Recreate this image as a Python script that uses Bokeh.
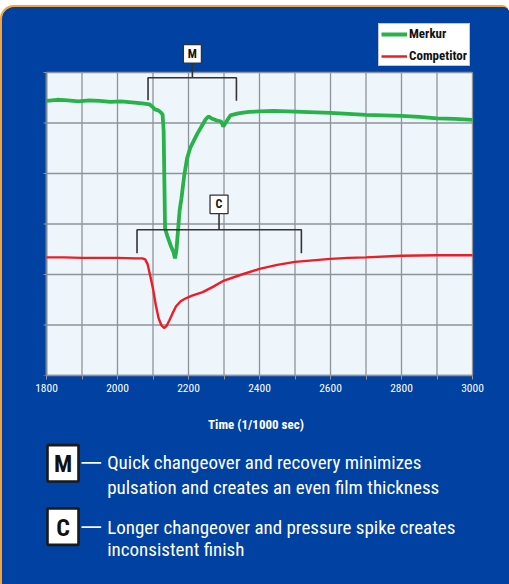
import math
from bokeh.plotting import figure
from bokeh.layouts import column
from bokeh.models import Range1d, FixedTicker, Legend, LegendItem
from bokeh.embed import file_html
from bokeh.resources import INLINE
from bokeh.core.properties import value

# ---------------- data ----------------
merkur_time = [1800, 1830, 1860, 1890, 1920, 1950, 1980, 2010, 2040, 2070, 2090,
               2100, 2105, 2115, 2122, 2127, 2130, 2132, 2134, 2140, 2150, 2158,
               2162, 2166, 2170, 2175, 2180, 2188, 2196, 2205, 2215, 2225, 2235,
               2248, 2256, 2265, 2280, 2292, 2298, 2305, 2318, 2340, 2370, 2400,
               2440, 2480, 2520, 2560, 2600, 2650, 2700, 2750, 2800, 2850, 2900,
               2950, 3000]
merkur_value = [5.44, 5.46, 5.45, 5.43, 5.45, 5.44, 5.42, 5.43, 5.41, 5.39, 5.37,
                5.31, 5.27, 5.25, 5.21, 5.17, 4.85, 3.86, 2.91, 2.77, 2.57, 2.44,
                2.32, 2.48, 2.83, 3.27, 3.50, 3.96, 4.30, 4.51, 4.65, 4.79, 4.91,
                5.07, 5.13, 5.09, 5.05, 5.03, 4.93, 5.01, 5.15, 5.19, 5.22, 5.23,
                5.24, 5.23, 5.22, 5.21, 5.20, 5.18, 5.16, 5.15, 5.14, 5.12, 5.09,
                5.08, 5.06]

competitor_time = [1800, 1850, 1900, 1950, 2000, 2050, 2070, 2078, 2085, 2092, 2100,
                   2108, 2116, 2124, 2131, 2138, 2146, 2155, 2165, 2178, 2190, 2210,
                   2240, 2270, 2300, 2350, 2400, 2450, 2500, 2550, 2600, 2650, 2700,
                   2800, 2900, 3000]
competitor_value = [2.34, 2.34, 2.33, 2.33, 2.33, 2.32, 2.32, 2.30, 2.20, 1.98, 1.72,
                    1.39, 1.13, 0.99, 0.94, 0.98, 1.09, 1.23, 1.37, 1.47, 1.52, 1.58,
                    1.65, 1.76, 1.88, 2.00, 2.11, 2.19, 2.25, 2.28, 2.31, 2.33, 2.34,
                    2.37, 2.38, 2.38]

series_names = ["Merkur", "Competitor"]
x_tick_labels = [1800, 2000, 2200, 2400, 2600, 2800, 3000]
x_minor_ticks = [1900, 2100, 2300, 2500, 2700, 2900]
y_levels = [0, 1, 2, 3, 4, 5, 6]

bracket_m = [2086, 2335]
bracket_c = [2055, 2518]
note_letters = ["M", "C"]
note_m = ["Quick changeover and recovery minimizes",
          "pulsation and creates an even film thickness"]
note_c = ["Longer changeover and pressure spike creates",
          "inconsistent finish"]
axis_title = "Time (1/1000 sec)"

# ---------------- style ----------------
FONT = "'Liberation Sans Narrow', 'Arial Narrow', 'Roboto Condensed', sans-serif"
BLUE = "#0041A1"
PANEL = "#EEF6FC"
GRID = "#8E9399"
GREEN = "#27B24A"
RED = "#EE1C25"
DARK = "#333333"

W = 507
H_TOP = 433
H_BOT = 144
PX_PER_X = 0.355      # pixels per time unit
PX_PER_Y = 50.5       # pixels per y unit
x_lo = x_tick_labels[0] - 44 / PX_PER_X
x_hi = x_lo + W / PX_PER_X
y_hi = 368 / PX_PER_Y

p = figure(width=W, height=H_TOP, output_backend="svg", toolbar_location=None,
           x_range=Range1d(x_lo, x_hi), y_range=Range1d(0, y_hi),
           y_axis_type=None,
           min_border_left=0, min_border_right=0, min_border_top=0,
           min_border_bottom=65)
p.background_fill_color = BLUE
p.border_fill_color = BLUE
p.outline_line_color = None
p.grid.visible = False

x0, x1 = x_tick_labels[0], x_tick_labels[-1]
y0, y1 = y_levels[0], y_levels[-1]

# backdrop and plot panel
p.quad(left=[x_lo], right=[x_hi], bottom=[0], top=[y_hi], fill_color=BLUE, line_color=None)
p.quad(left=[x0], right=[x1], bottom=[y0], top=[y1], fill_color=PANEL, line_color=None)

all_x = sorted(x_tick_labels + x_minor_ticks)
p.segment(x0=all_x, y0=[y0] * len(all_x), x1=all_x, y1=[y1] * len(all_x),
          line_color=GRID, line_width=1.3)
p.segment(x0=[x0] * len(y_levels), y0=y_levels, x1=[x1] * len(y_levels), y1=y_levels,
          line_color=GRID, line_width=1.3)
# left edge (y axis line) and its small ticks
p.segment(x0=[x0], y0=[y0], x1=[x0], y1=[y1], line_color="#7C8794", line_width=1.8)
p.ray(x=[x0] * len(y_levels), y=y_levels, length=3, length_units="screen",
      angle=math.pi, line_color=GRID, line_width=1.2)

# series
r_m = p.line(merkur_time, merkur_value, line_color=GREEN, line_width=3.8)
r_c = p.line(competitor_time, competitor_value, line_color=RED, line_width=2.4)

# brackets
p.multi_line(xs=[[bracket_m[0], bracket_m[0], bracket_m[1], bracket_m[1]],
                 [2211, 2211],
                 [bracket_c[0], bracket_c[0], bracket_c[1], bracket_c[1]],
                 [2286, 2286]],
             ys=[[5.45, 5.895, 5.895, 5.44], [5.895, 6.19],
                 [2.42, 2.885, 2.885, 2.42], [2.885, 3.20]],
             line_color=DARK, line_width=1.6)
p.rect(x=[2211, 2286], y=[6.37, 3.39], width=18, height=18.5,
       width_units="screen", height_units="screen",
       fill_color="white", line_color=DARK, line_width=1.3)
p.text(x=[2211, 2286], y=[6.37, 3.39], text=note_letters, text_align="center",
       text_baseline="middle", text_font=value(FONT), text_font_style="bold",
       text_font_size="12px", text_color="#111111")

# legend
legend = Legend(items=[LegendItem(label=series_names[0], renderers=[r_m]),
                       LegendItem(label=series_names[1], renderers=[r_c])],
                location=(376, 368 - 19 - 40), margin=0, padding=2, spacing=7,
                label_height=14, glyph_height=14, glyph_width=26, label_standoff=2,
                border_line_color="#8C8C8C", border_line_width=1.2,
                background_fill_color="white", background_fill_alpha=1.0,
                label_text_font=FONT, label_text_font_style="bold",
                label_text_font_size="13px", label_text_color="#111111")
p.add_layout(legend)

# x axis
xa = p.xaxis[0]
xa.ticker = FixedTicker(ticks=x_tick_labels, minor_ticks=x_minor_ticks)
xa.bounds = (x0, x1)
xa.axis_line_color = GRID
xa.axis_line_width = 1.3
xa.major_tick_line_color = GRID
xa.minor_tick_line_color = GRID
xa.major_tick_out = 4
xa.major_tick_in = 0
xa.minor_tick_out = 4
xa.minor_tick_in = 0
xa.major_label_standoff = 4
xa.major_label_text_color = "white"
xa.major_label_text_font = FONT
xa.major_label_text_font_size = "11.5px"
xa.axis_label = axis_title
xa.axis_label_text_color = "white"
xa.axis_label_text_font = FONT
xa.axis_label_text_font_style = "bold"
xa.axis_label_text_font_size = "13px"
xa.axis_label_standoff = 22

# ---------------- notes panel (coordinates in page pixels) ----------------
q = figure(width=W, height=H_BOT, output_backend="svg", toolbar_location=None,
           x_range=Range1d(2, 2 + W), y_range=Range1d(440 + H_BOT, 440),
           x_axis_type=None, y_axis_type=None,
           min_border_left=0, min_border_right=0,
           min_border_top=0, min_border_bottom=0)
q.background_fill_color = BLUE
q.border_fill_color = BLUE
q.outline_line_color = None
q.grid.visible = False

q.quad(left=[2], right=[2 + W], bottom=[440 + H_BOT], top=[440], fill_color=BLUE,
       line_color=None)
q.rect(x=[62.5, 62.5], y=[462.8, 526.2], width=[31, 31], height=[36.4, 36.4],
       fill_color="white", line_color="#1A1A1A", line_width=2.6)
q.text(x=[62.5, 62.5], y=[463.8, 527.2], text=note_letters, text_align="center",
       text_baseline="middle", text_font=value(FONT), text_font_style="bold",
       text_font_size="24px", text_color="#111111")
q.segment(x0=[81, 81], y0=[462.3, 526.7], x1=[100.7, 100.7], y1=[462.3, 526.7],
          line_color="white", line_width=1.8)
q.text(x=[106.7] * 4, y=[462.3, 486.7, 526.7, 549.3], text=note_m + note_c,
       text_align="left", text_baseline="middle", text_font=value(FONT),
       text_font_size="19px", text_color="white")

layout = column(p, q, spacing=0,
                styles={"margin-top": "7px", "margin-left": "2px",
                        "background-color": BLUE,
                        "border-radius": "13px 6px 0 0", "overflow": "hidden",
                        "box-shadow": "-1px -1px 0 1px #F2A33A"})

open("out.html", "w").write(file_html(layout, INLINE))
